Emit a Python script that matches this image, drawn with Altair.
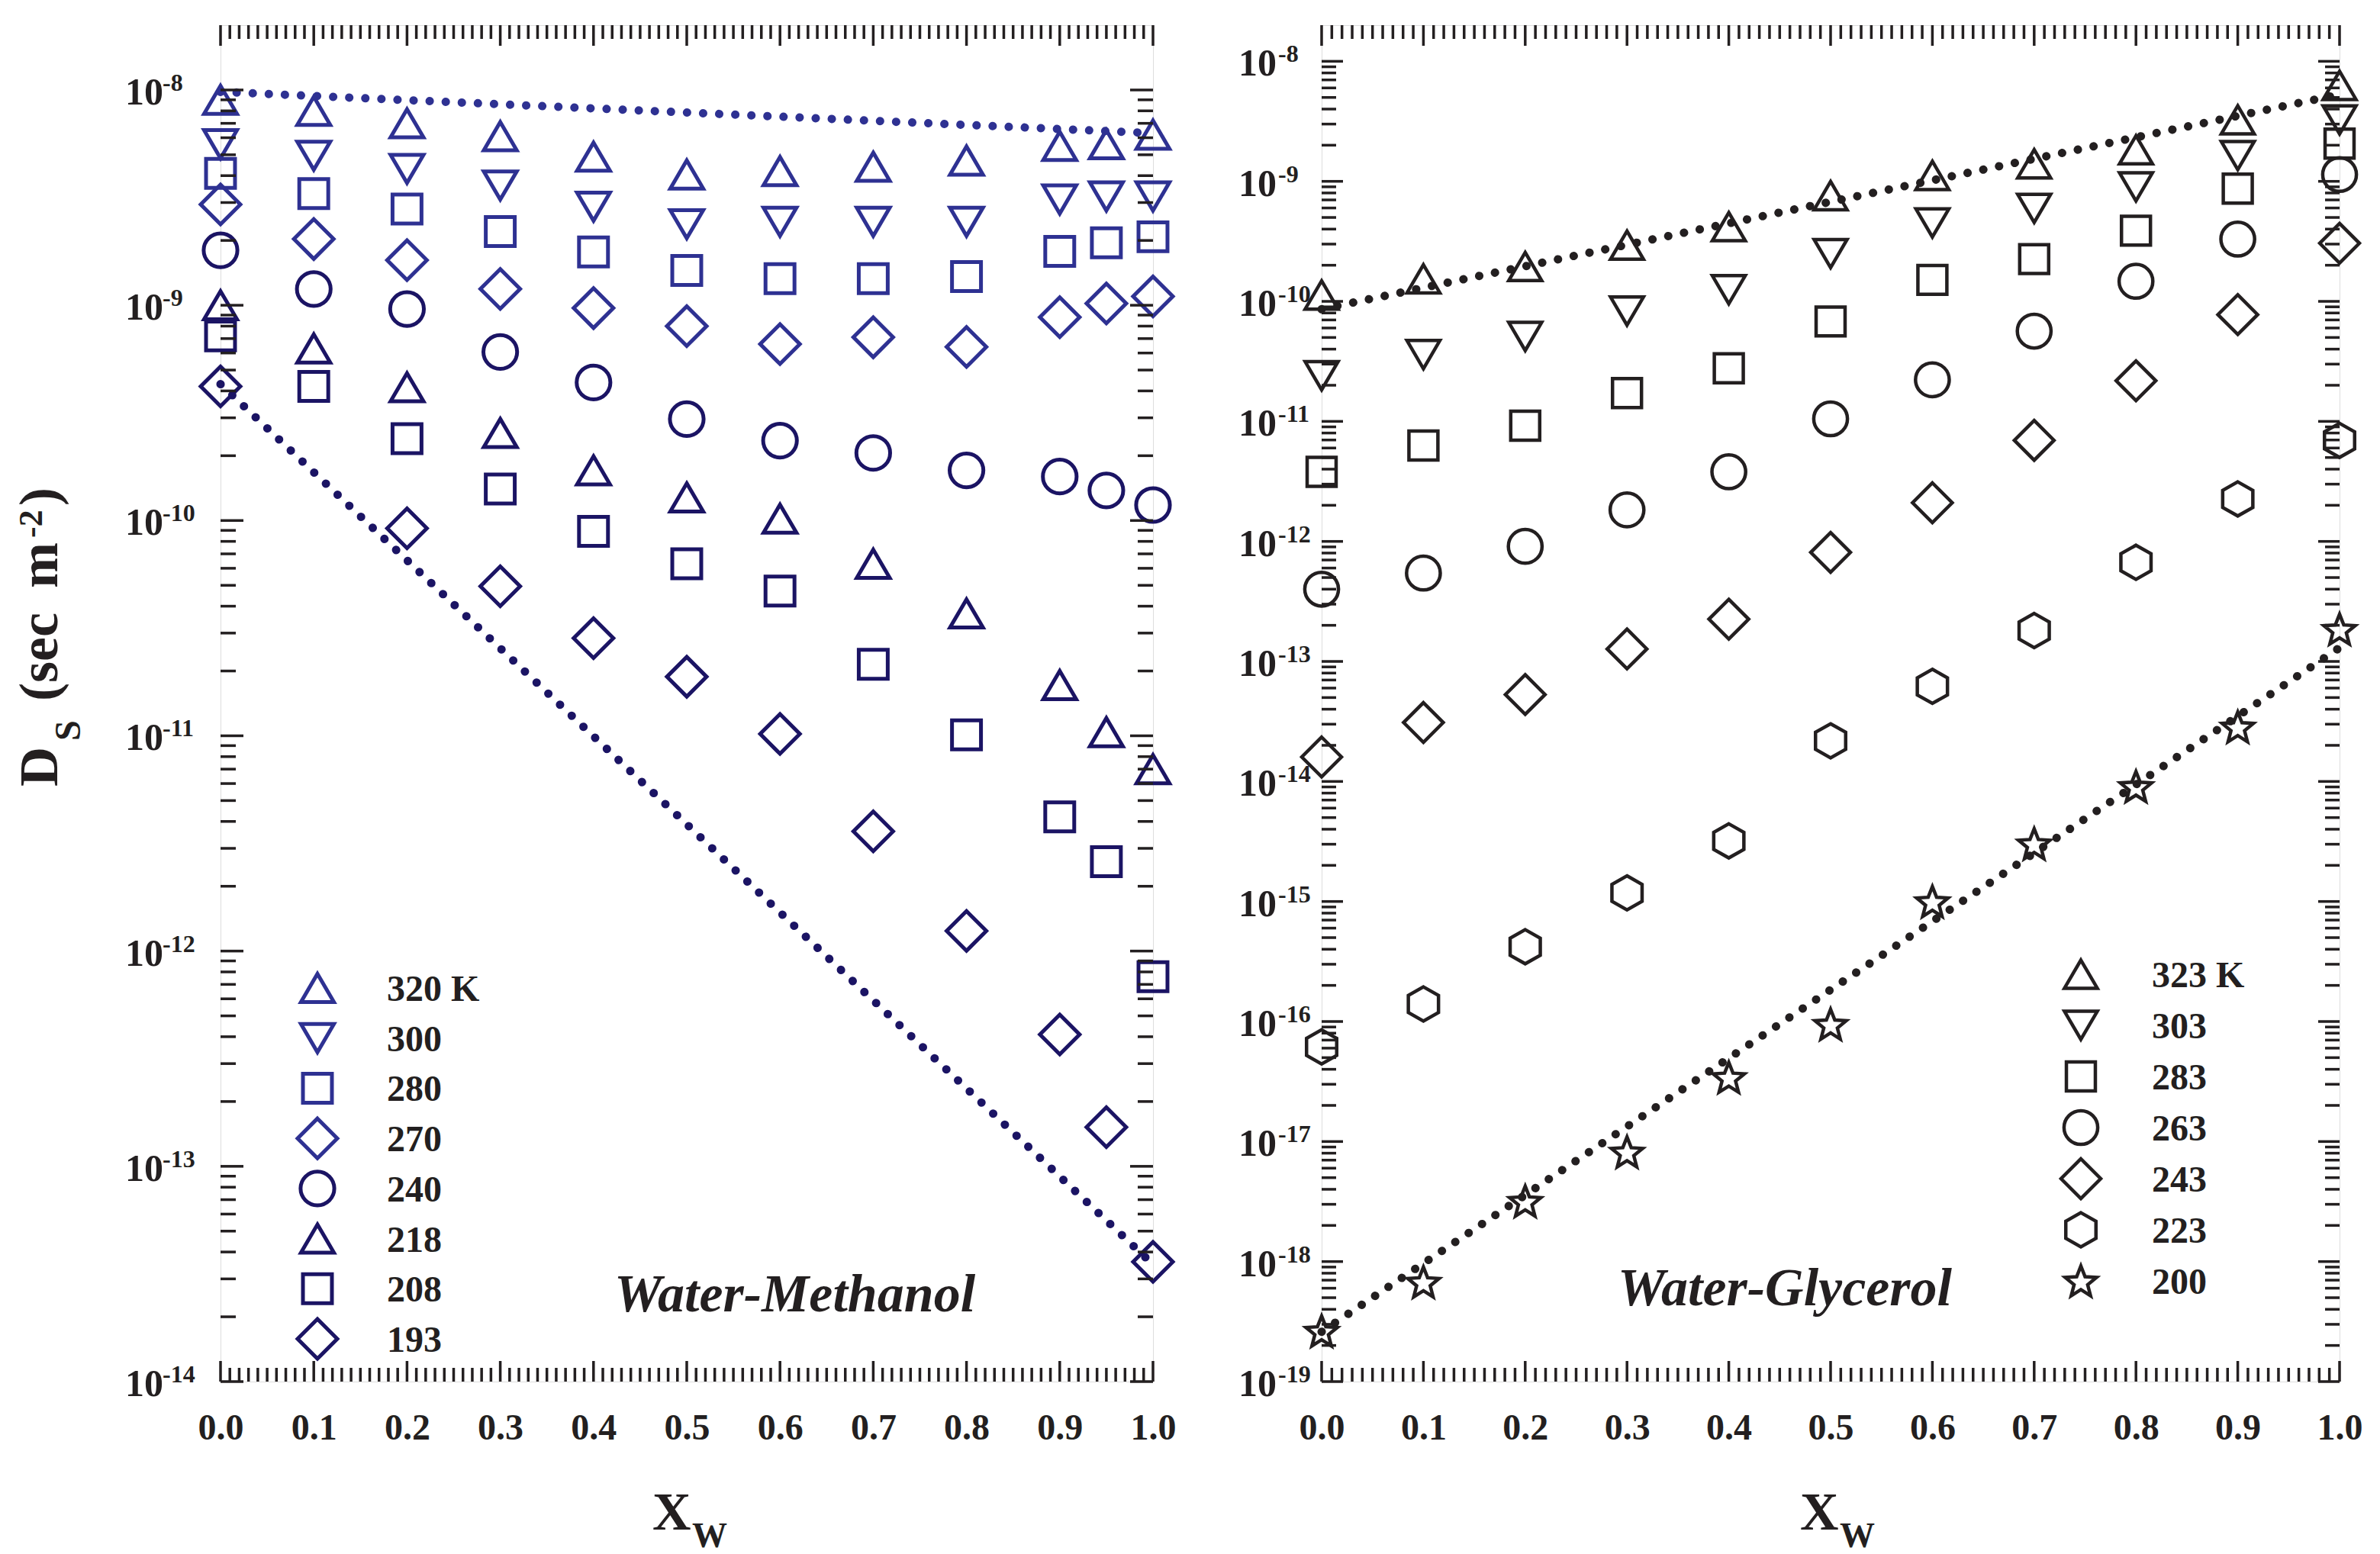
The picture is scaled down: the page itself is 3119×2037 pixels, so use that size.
import math
import altair as alt
import pandas as pd

# ---------------- data ----------------
# Water-Methanol (left panel)
XW_M = [0.0, 0.1, 0.2, 0.3, 0.4, 0.5, 0.6, 0.7, 0.8, 0.9, 0.95, 1.0]
M_LABELS = ["320 K", "300", "280", "270", "240", "218", "208", "193"]
M320 = [9.0e-9, 8.0e-9, 7.0e-9, 6.1e-9, 4.9e-9, 4.05e-9, 4.2e-9, 4.4e-9, 4.7e-9, 5.5e-9, 5.6e-9, 6.2e-9]
M300 = [5.6e-9, 4.95e-9, 4.3e-9, 3.6e-9, 2.87e-9, 2.38e-9, 2.44e-9, 2.44e-9, 2.44e-9, 3.1e-9, 3.2e-9, 3.2e-9]
M280 = [4.1e-9, 3.3e-9, 2.8e-9, 2.2e-9, 1.77e-9, 1.45e-9, 1.33e-9, 1.33e-9, 1.36e-9, 1.78e-9, 1.95e-9, 2.08e-9]
M270 = [2.94e-9, 2.03e-9, 1.62e-9, 1.19e-9, 9.7e-10, 8.0e-10, 6.6e-10, 7.1e-10, 6.4e-10, 8.8e-10, 1.02e-9, 1.1e-9]
M240 = [1.8e-9, 1.19e-9, 9.6e-10, 6.07e-10, 4.38e-10, 2.96e-10, 2.35e-10, 2.06e-10, 1.71e-10, 1.6e-10, 1.38e-10, 1.18e-10]
M218 = [1.0e-9, 6.3e-10, 4.16e-10, 2.55e-10, 1.71e-10, 1.28e-10, 1.02e-10, 6.3e-11, 3.7e-11, 1.72e-11, 1.04e-11, 7.0e-12]
M208 = [7.2e-10, 4.2e-10, 2.4e-10, 1.4e-10, 8.9e-11, 6.3e-11, 4.7e-11, 2.15e-11, 1.01e-11, 4.2e-12, 2.6e-12, 7.6e-13]
M193 = [4.2e-10, None, 9.2e-11, 4.95e-11, 2.84e-11, 1.88e-11, 1.02e-11, 3.6e-12, 1.24e-12, 4.1e-13, 1.52e-13, 3.6e-14]
M_LINE_X = [0.0, 1.0]
M_UPPER = [9.8e-9, 6.3e-9]
M_LOWER = [4.3e-10, 3.5e-14]

# Water-Glycerol (right panel)
XW_G = [0.0, 0.1, 0.2, 0.3, 0.4, 0.5, 0.6, 0.7, 0.8, 0.9, 1.0]
G_LABELS = ["323 K", "303", "283", "263", "243", "223", "200"]
G323 = [1.13e-10, 1.54e-10, 1.95e-10, 2.94e-10, 4.19e-10, 7.6e-10, 1.12e-9, 1.40e-9, 1.83e-9, 3.25e-9, 6.3e-9]
G303 = [2.4e-11, 3.6e-11, 5.1e-11, 8.3e-11, 1.25e-10, 2.5e-10, 4.5e-10, 5.95e-10, 9.0e-10, 1.64e-9, 3.25e-9]
G283 = [3.8e-12, 6.3e-12, 9.2e-12, 1.72e-11, 2.77e-11, 6.8e-11, 1.51e-10, 2.25e-10, 3.88e-10, 8.7e-10, 2.06e-9]
G263 = [4.0e-13, 5.45e-13, 9.1e-13, 1.83e-12, 3.8e-12, 1.05e-11, 2.22e-11, 5.65e-11, 1.47e-10, 3.3e-10, 1.14e-9]
G243 = [1.6e-14, 3.1e-14, 5.3e-14, 1.27e-13, 2.25e-13, 8.1e-13, 2.1e-12, 6.95e-12, 2.18e-11, 7.75e-11, 3.05e-10]
G223 = [6.15e-17, 1.4e-16, 4.2e-16, 1.18e-15, 3.2e-15, 2.18e-14, 6.2e-14, 1.81e-13, 6.7e-13, 2.26e-12, 6.95e-12]
G200 = [2.64e-19, 6.76e-19, 3.19e-18, 8.2e-18, 3.43e-17, 9.5e-17, 1.0e-15, 3.03e-15, 9.1e-15, 2.85e-14, 1.86e-13]
G_LINE_X = [0.0, 1.0]
G_UPPER = [8.6e-11, 5.3e-9]
G_LOWER = [2.6e-19, 1.3e-13]

# axis ticks
X_MAJOR = [0.0, 0.1, 0.2, 0.3, 0.4, 0.5, 0.6, 0.7, 0.8, 0.9, 1.0]
X_MINOR = [i / 100 for i in range(101) if i % 10 != 0]
M_EXP = [-8, -9, -10, -11, -12, -13, -14]
G_EXP = [-8, -9, -10, -11, -12, -13, -14, -15, -16, -17, -18, -19]
MINOR_MULT = [2, 3, 4, 5, 6, 7, 8, 9]
Y_TOP = 2e-8

# ---------------- style ----------------
FONT = "Liberation Serif"
INK = "#231f20"
LB = "#2e3192"
DB = "#1b1464"


def poly(pts):
    return "M" + " L".join(f"{x:.3f},{y:.3f}" for x, y in pts) + " Z"


TRI_UP = poly([(0, -0.71), (0.83, 0.71), (-0.83, 0.71)])
TRI_DN = poly([(0, 0.71), (0.83, -0.71), (-0.83, -0.71)])
SQUARE = poly([(-0.73, -0.73), (0.73, -0.73), (0.73, 0.73), (-0.73, 0.73)])
DIAMOND = poly([(0, -1), (1, 0), (0, 1), (-1, 0)])
CIRCLE = "M0.85,0 A0.85,0.85 0 1,1 -0.85,0 A0.85,0.85 0 1,1 0.85,0 Z"
HEXAGON = poly([(0, -0.86), (0.76, -0.43), (0.76, 0.43), (0, 0.86), (-0.76, 0.43), (-0.76, -0.43)])
_star = []
for k in range(10):
    r = 0.83 if k % 2 == 0 else 0.36
    a = math.radians(-90 + 36 * k)
    _star.append((r * math.cos(a), r * math.sin(a) + 0.08))
STAR = poly(_star)

M_SHAPES = [TRI_UP, TRI_DN, SQUARE, DIAMOND, CIRCLE, TRI_UP, SQUARE, DIAMOND]
M_COLORS = [LB, LB, LB, LB, DB, DB, DB, DB]
G_SHAPES = [TRI_UP, TRI_DN, SQUARE, CIRCLE, DIAMOND, HEXAGON, STAR]
G_COLORS = [INK] * 7

SYM = 2704
ONE = pd.DataFrame({"k": [0]})


def long_df(xs, labels, series):
    rows = []
    for lab, vals in zip(labels, series):
        for x, v in zip(xs, vals):
            if v is not None:
                rows.append({"x": x, "D": v, "T": lab})
    return pd.DataFrame(rows)


def text(txt, x, y, size, angle=0, style="normal"):
    return alt.Chart(ONE).mark_text(
        text=txt, align="left", baseline="alphabetic", font=FONT, fontSize=size,
        fontWeight="bold", fontStyle=style, angle=angle, color=INK
    ).encode(x=alt.value(x), y=alt.value(y))


def panel(W, H, xs_vals, labels, series, shapes, colors, stroke_w, lines, exps,
          lab10_x, labexp_x, ymaj, ymin, leg_sym_x, leg_lab_x, leg_y0, leg_y1, extra):
    xs = alt.Scale(domain=[0, 1], nice=False, zero=False)
    ys = alt.Scale(type="log", domain=[10.0 ** exps[-1], Y_TOP], nice=False)
    xaxis = alt.Axis(values=X_MAJOR, format=".1f", ticks=False, tickSize=0, domain=False,
                     grid=False, title=None, labelFont=FONT, labelFontSize=48,
                     labelFontWeight="bold", labelColor=INK, labelPadding=75,
                     labelBaseline="alphabetic", labelFlush=False, labelOverlap=False,
                     labelBound=False)
    X = lambda f: alt.X(f, scale=xs, axis=xaxis)
    Y = lambda f: alt.Y(f, scale=ys, axis=None)
    shape_enc = alt.Shape("T:N", scale=alt.Scale(domain=labels, range=shapes), legend=None)
    color_enc = alt.Color("T:N", scale=alt.Scale(domain=labels, range=colors), legend=None)

    layers = []
    # dotted guide lines
    for (lx, ly, col) in lines:
        ldf = pd.DataFrame({"x": lx, "D": ly})
        layers.append(alt.Chart(ldf).mark_line(
            color=col, strokeWidth=11, strokeDash=[0.1, 21], strokeCap="round"
        ).encode(x=X("x:Q"), y=Y("D:Q")))

    # data points
    df = long_df(xs_vals, labels, series)
    layers.append(alt.Chart(df).mark_point(
        filled=False, size=SYM, strokeWidth=stroke_w, opacity=1
    ).encode(x=X("x:Q"), y=Y("D:Q"), shape=shape_enc, color=color_enc))

    # legend inside the plot (symbols + labels), rows placed by their own scale
    ldf = pd.DataFrame({"T": labels, "i": list(range(len(labels)))})
    ly = alt.Y("i:Q", scale=alt.Scale(domain=[0, len(labels) - 1], range=[leg_y0, leg_y1],
                                      nice=False, zero=False), axis=None)
    layers.append(alt.Chart(ldf).mark_point(
        filled=False, size=SYM, strokeWidth=stroke_w, opacity=1
    ).encode(x=alt.value(leg_sym_x), y=ly, shape=shape_enc, color=color_enc))
    layers.append(alt.Chart(ldf).mark_text(
        align="left", baseline="alphabetic", font=FONT, fontSize=48, fontWeight="bold",
        color=INK, dy=17
    ).encode(x=alt.value(leg_lab_x), y=ly, text="T:N"))

    # inward ticks
    ymajor = [10.0 ** e for e in exps]
    yminor = [m * 10.0 ** e for e in exps for m in MINOR_MULT if m * 10.0 ** e < Y_TOP * 0.999]
    dmaj = pd.DataFrame({"v": ymajor})
    dmin = pd.DataFrame({"v": yminor})
    dxmaj = pd.DataFrame({"v": X_MAJOR})
    dxmin = pd.DataFrame({"v": X_MINOR})
    rule = dict(color=INK, strokeWidth=3.5)
    layers += [
        alt.Chart(dmaj).mark_rule(**rule).encode(y=Y("v:Q"), x=alt.value(0), x2=alt.value(ymaj)),
        alt.Chart(dmaj).mark_rule(**rule).encode(y=Y("v:Q"), x=alt.value(W - ymaj), x2=alt.value(W)),
        alt.Chart(dmin).mark_rule(**rule).encode(y=Y("v:Q"), x=alt.value(0), x2=alt.value(ymin)),
        alt.Chart(dmin).mark_rule(**rule).encode(y=Y("v:Q"), x=alt.value(W - ymin), x2=alt.value(W)),
        alt.Chart(dxmaj).mark_rule(**rule).encode(x=X("v:Q"), y=alt.value(0), y2=alt.value(27)),
        alt.Chart(dxmaj).mark_rule(**rule).encode(x=X("v:Q"), y=alt.value(H - 27), y2=alt.value(H)),
        alt.Chart(dxmin).mark_rule(**rule).encode(x=X("v:Q"), y=alt.value(0), y2=alt.value(18)),
        alt.Chart(dxmin).mark_rule(**rule).encode(x=X("v:Q"), y=alt.value(H - 18), y2=alt.value(H)),
    ]

    # y tick labels 10^n
    dlab = pd.DataFrame({"v": ymajor, "e": [str(e) for e in exps]})
    layers.append(alt.Chart(dlab).mark_text(
        text="10", align="left", baseline="alphabetic", font=FONT, fontSize=50,
        fontWeight="bold", color=INK, dy=19
    ).encode(y=Y("v:Q"), x=alt.value(lab10_x)))
    layers.append(alt.Chart(dlab).mark_text(
        align="left", baseline="alphabetic", font=FONT, fontSize=32,
        fontWeight="bold", color=INK, dy=1
    ).encode(y=Y("v:Q"), x=alt.value(labexp_x), text="e:N"))

    layers += extra
    return alt.layer(*layers).resolve_scale(y="independent").properties(width=W, height=H)


W1, W2, H = 1222, 1334, 1778

left_extra = [
    text("Water-Methanol", 516, 1686, 70, style="italic"),
    text("X", 566, 1972, 70),
    text("W", 618, 1995, 46),
    text("D", -214, 998, 72, angle=270),
    text("S", -184, 938, 48, angle=270),
    text("(sec", -214, 886, 72, angle=270),
    text("m", -214, 738, 72, angle=270),
    text("-2", -234, 672, 44, angle=270),
    text(")", -214, 630, 72, angle=270),
]
right_extra = [
    text("Water-Glycerol", 388, 1678, 70, style="italic"),
    text("X", 627, 1972, 70),
    text("W", 679, 1995, 46),
]

left = panel(
    W1, H, XW_M, M_LABELS, [M320, M300, M280, M270, M240, M218, M208, M193],
    M_SHAPES, M_COLORS, 5, [(M_LINE_X, M_UPPER, LB), (M_LINE_X, M_LOWER, DB)],
    M_EXP, -125, -76, 30, 20, 127, 218, 1262, 1722, left_extra)
right = panel(
    W2, H, XW_G, G_LABELS, [G323, G303, G283, G263, G243, G223, G200],
    G_SHAPES, G_COLORS, 4.5, [(G_LINE_X, G_UPPER, INK), (G_LINE_X, G_LOWER, INK)],
    G_EXP, -109, -57, 28, 19, 995, 1088, 1244, 1646, right_extra)

chart = alt.hconcat(left, right, spacing=221, bounds="flush").resolve_scale(
    x="independent", y="independent", color="independent", shape="independent"
).properties(
    padding={"left": 8, "top": 22, "right": 5, "bottom": 2}
).configure_view(stroke=INK, strokeWidth=4.5).configure(font=FONT)

chart.save("out.html", embed_options={"renderer": "svg", "actions": False})
